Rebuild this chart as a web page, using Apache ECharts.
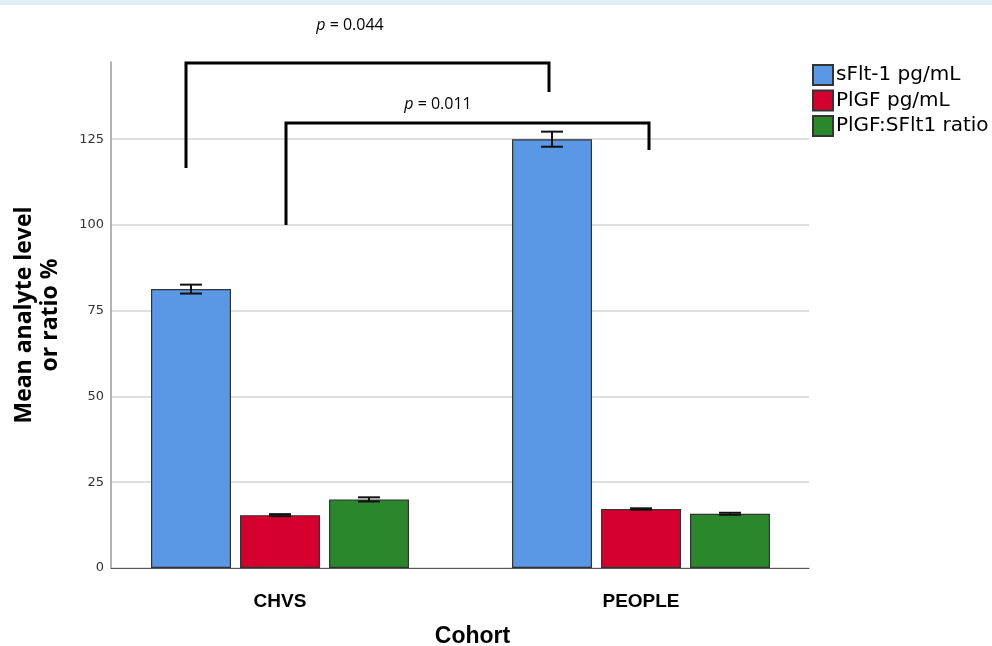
<!DOCTYPE html>
<html>
<head>
<meta charset="utf-8">
<script src="https://cdn.jsdelivr.net/npm/echarts@6/dist/echarts.min.js"></script>
<style>
html,body{margin:0;padding:0;background:#fff;}
#c{width:992px;height:646px;}
</style>
</head>
<body>
<div id="c"></div>
<script>
const categories = ['CHVS', 'PEOPLE'];
const seriesNames = ['sFlt-1 pg/mL', 'PlGF pg/mL', 'PlGF:SFlt1 ratio'];
const sflt1 = [81.3, 125.0];
const plgf = [15.4, 17.2];
const ratio = [20.0, 15.8];
const sflt1Err = [1.3, 2.2];
const plgfErr = [0.3, 0.2];
const ratioErr = [0.6, 0.3];
const yTicks = [0, 25, 50, 75, 100, 125];
const pLabels = ['0.044', '0.011'];

const colors = ['#5a97e4', '#d6002f', '#2a872b'];
const values = [sflt1, plgf, ratio];
const errs = [sflt1Err, plgfErr, ratioErr];

const chart = echarts.init(document.getElementById('c'));

const BAR_W = 80, BAR_GAP = 9;

const barSeries = seriesNames.map((name, i) => ({
  name: name,
  type: 'bar',
  xAxisIndex: 1,
  yAxisIndex: 1,
  data: values[i],
  barWidth: BAR_W,
  barGap: (BAR_GAP / BAR_W * 100) + '%',
  itemStyle: { color: colors[i], borderColor: '#333', borderWidth: 1.2 },
  emphasis: { disabled: true },
  z: 2
}));

const errSeries = seriesNames.map((name, i) => ({
  type: 'custom',
  xAxisIndex: 1,
  yAxisIndex: 1,
  data: values[i].map((v, k) => [k, v - errs[i][k], v + errs[i][k]]),
  z: 5,
  silent: true,
  renderItem: function (params, api) {
    const c = api.coord([api.value(0), 0]);
    const cx = c[0] + (i - 1) * (BAR_W + BAR_GAP);
    const lo = api.coord([api.value(0), api.value(1)])[1];
    const hi = api.coord([api.value(0), api.value(2)])[1];
    const hw = 11;
    const st = { stroke: '#111', lineWidth: 2 };
    return {
      type: 'group',
      children: [
        { type: 'line', shape: { x1: cx, y1: lo, x2: cx, y2: hi }, style: st },
        { type: 'line', shape: { x1: cx - hw, y1: lo, x2: cx + hw, y2: lo }, style: st },
        { type: 'line', shape: { x1: cx - hw, y1: hi, x2: cx + hw, y2: hi }, style: st }
      ]
    };
  }
}));

const YMAX = 147.5;

const option = {
  animation: false,
  backgroundColor: '#ffffff',
  textStyle: { fontFamily: 'DejaVu Sans' },
  grid: [
    { left: 111, right: 183, top: 62, bottom: 78, outerBoundsMode: 'none', containLabel: false },
    { left: 99.5, right: 170.5, top: 62, bottom: 78, outerBoundsMode: 'none', containLabel: false }
  ],
  legend: {
    orient: 'vertical',
    left: 812,
    top: 64,
    padding: 0,
    itemWidth: 20,
    itemHeight: 20,
    itemGap: 3.5,
    icon: 'rect',
    selectedMode: false,
    data: seriesNames,
    textStyle: { fontSize: 20, lineHeight: 18, color: '#000', fontFamily: 'DejaVu Sans', padding: [0, 0, 0, -2] }
  },
  xAxis: [
    {
      type: 'category', gridIndex: 0, data: categories,
      axisLine: { lineStyle: { color: '#555', width: 1 } },
      axisTick: { show: false }, axisLabel: { show: false }
    },
    {
      type: 'category', gridIndex: 1, data: categories,
      axisLine: { show: false }, axisTick: { show: false },
      axisLabel: { fontSize: 19, fontWeight: 'bold', color: '#000', fontFamily: 'Liberation Sans', margin: 24 },
      name: 'Cohort', nameLocation: 'middle', nameGap: 57,
      nameTextStyle: { fontSize: 23, fontWeight: 'bold', color: '#000', fontFamily: 'Liberation Sans', padding: [0, 0, 0, 24] }
    }
  ],
  yAxis: [
    {
      type: 'value', gridIndex: 0, min: 0, max: YMAX, interval: 25,
      axisLine: { show: true, lineStyle: { color: '#9a9a9a', width: 1.5 } },
      axisTick: { show: false },
      axisLabel: { showMaxLabel: false, fontSize: 13, color: '#333', margin: 7, fontFamily: 'DejaVu Sans' },
      splitLine: { show: true, lineStyle: { color: ['#d4d4d4', '#d4d4d4', '#d4d4d4', '#d4d4d4', '#d4d4d4', '#d4d4d4', 'rgba(0,0,0,0)'], width: 1.5 } },
      name: 'Mean analyte level\nor ratio %', nameLocation: 'middle', nameGap: 48,
      nameTextStyle: { fontSize: 23, fontWeight: 'bold', color: '#000', fontFamily: 'Open Sans', lineHeight: 26 }
    },
    {
      type: 'value', gridIndex: 1, min: 0, max: YMAX, interval: 25, show: false,
      splitLine: { show: false }
    }
  ],
  series: barSeries.concat(errSeries),
  graphic: [
    { type: 'rect', left: 0, top: 0, shape: { width: 992, height: 5 }, style: { fill: '#deeff4' }, silent: true },
    { type: 'polyline', shape: { points: [[186, 168], [186, 63], [549, 63], [549, 92]] }, style: { stroke: '#000', lineWidth: 3, fill: null }, z: 10 },
    { type: 'polyline', shape: { points: [[286, 225], [286, 123], [649, 123], [649, 150]] }, style: { stroke: '#000', lineWidth: 3, fill: null }, z: 10 },
    {
      type: 'text', x: 350, y: 25, z: 10,
      style: {
        text: '{i|p} = ' + pLabels[0], align: 'center', verticalAlign: 'middle',
        fontSize: 16, fontFamily: 'Open Sans', fill: '#000',
        rich: { i: { fontStyle: 'italic', fontSize: 16, fontFamily: 'Open Sans' } }
      }
    },
    {
      type: 'text', x: 438, y: 104, z: 10,
      style: {
        text: '{i|p} = ' + pLabels[1], align: 'center', verticalAlign: 'middle',
        fontSize: 16, fontFamily: 'Open Sans', fill: '#000',
        rich: { i: { fontStyle: 'italic', fontSize: 16, fontFamily: 'Open Sans' } }
      }
    }
  ]
};

chart.setOption(option);
</script>
</body>
</html>
